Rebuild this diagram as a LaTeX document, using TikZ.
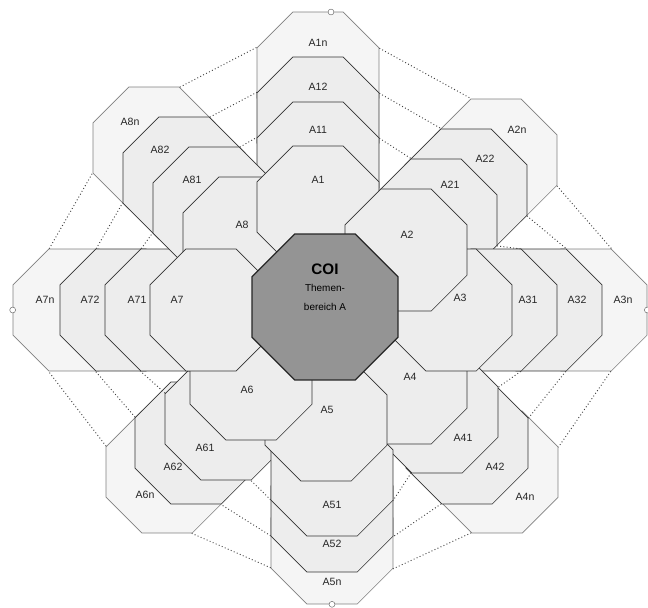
\documentclass[tikz,border=0pt]{standalone}
\usepackage{fontspec}
\setmainfont{Liberation Sans}
\usetikzlibrary{shapes.geometric}
\tikzset{
    field/.style={regular polygon, regular polygon sides=8, minimum size=3.96cm,
        inner sep=0pt, draw=black!80, fill=black!7, line width=0.6pt},
    outer/.style={field, draw=black!50, fill=black!4},
    core/.style={regular polygon, regular polygon sides=8, minimum size=4.74cm,
        inner sep=0pt, draw=black!85, fill=black!42, line width=1.1pt},
    tag/.style={font=\fontsize{9}{10}\selectfont, text=black!85, inner sep=0pt},
    % text of a field, shifted from its centre
    tagged/.style n args={3}{label={[tag, shift={(#1,#2)}]center:#3}},
    link/.style={dotted, line width=0.8pt, black!75},
    handle/.style={circle, draw=black!60, fill=white, inner sep=0pt, minimum size=5pt},
}
\begin{document}
\begin{tikzpicture}[x=0.03cm, y=-0.03cm]
    \useasboundingbox (0,0) rectangle (648,607);

    % outer layer
    \node[outer, tagged={0}{-30}{A1n}]   (a1n) at (318,73)  {};
    \node[outer, tagged={21}{-30}{A2n}]  (a2n) at (496,160) {};
    \node[outer, tagged={37}{-10}{A3n}]  (a3n) at (586,310) {};
    \node[outer, tagged={28}{25}{A4n}]   (a4n) at (497,472) {};
    \node[outer, tagged={0}{39}{A5n}]    (a5n) at (332,543) {};
    \node[outer, tagged={-22}{23}{A6n}]  (a6n) at (167,472) {};
    \node[outer, tagged={-29}{-10}{A7n}] (a7n) at (74,310)  {};
    \node[outer, tagged={-24}{-26}{A8n}] (a8n) at (154,148) {};

    % second layer
    \node[field, tagged={0}{-31}{A12}]   (a12) at (318,118) {};
    \node[field, tagged={19}{-31}{A22}]  (a22) at (466,190) {};
    \node[field, tagged={36}{-10}{A32}]  (a32) at (541,310) {};
    \node[field, tagged={28}{24}{A42}]   (a42) at (467,443) {};
    \node[field, tagged={0}{33}{A52}]    (a52) at (332,511) {};
    \node[field, tagged={-23}{24}{A62}]  (a62) at (196,443) {};
    \node[field, tagged={-31}{-10}{A72}] (a72) at (121,310) {};
    \node[field, tagged={-24}{-28}{A82}] (a82) at (184,178) {};

    % first layer
    \node[field, tagged={0}{-33}{A11}]   (a11) at (318,163) {};
    \node[field, tagged={14}{-35}{A21}]  (a21) at (436,220) {};
    \node[field, tagged={32}{-10}{A31}]  (a31) at (496,310) {};
    \node[field, tagged={26}{26}{A41}]   (a41) at (437,412) {};
    \node[field, tagged={-21}{29}{A61}]  (a61) at (226,419) {};
    \node[field, tagged={0}{30}{A51}]    (a51) at (332,475) {};
    \node[field, tagged={-29}{-10}{A71}] (a71) at (166,310) {};
    \node[field, tagged={-22}{-28}{A81}] (a81) at (214,208) {};

    % dotted links between neighbouring layers
    \draw[link] (a8n.67.5) -- (a1n.157.5) (a82.67.5) -- (a12.157.5) (a81.67.5) -- (a11.157.5);
    \draw[link] (a1n.22.5) -- (a2n.112.5) (a12.22.5) -- (a22.112.5) (a11.22.5) -- (a21.112.5);
    \draw[link] (a2n.337.5) -- (a3n.67.5) (a22.337.5) -- (a32.67.5) (a21.337.5) -- (a31.67.5);
    \draw[link] (a3n.292.5) -- (a4n.22.5) (a32.292.5) -- (a42.22.5) (a31.292.5) -- (a41.22.5);
    \draw[link] (a4n.247.5) -- (a5n.337.5) (a42.247.5) -- (a52.337.5) (a41.247.5) -- (a51.337.5);
    \draw[link] (a5n.202.5) -- (a6n.292.5) (a52.202.5) -- (a62.292.5) (a51.202.5) -- (a61.292.5);
    \draw[link] (a6n.157.5) -- (a7n.247.5) (a62.157.5) -- (a72.247.5) (a61.157.5) -- (a71.247.5);
    \draw[link] (a7n.112.5) -- (a8n.202.5) (a72.112.5) -- (a82.202.5) (a71.112.5) -- (a81.202.5);

    % inner ring
    \node[field, tagged={4}{-6}{A4}]     (a4) at (406,383) {};
    \node[field, tagged={-2}{-13}{A8}]   (a8) at (244,238) {};
    \node[field, tagged={9}{-12}{A3}]    (a3) at (451,310) {};
    \node[field, tagged={1}{-10}{A5}]    (a5) at (326,420) {};
    \node[field, tagged={0}{-27}{A1}]    (a1) at (318,207) {};
    \node[field, tagged={-4}{11}{A6}]    (a6) at (251,379) {};
    \node[field, tagged={1}{-15}{A2}]    (a2) at (406,250) {};
    \node[field, tagged={-34}{-10}{A7}]  (a7) at (211,310) {};

    \node[core, label={[align=center, inner sep=0pt, shift={(0,-20)}]center:{\fontsize{13}{13}\selectfont\bfseries COI}\\[3pt]
        {\fontsize{8.5}{10}\selectfont Themen-}\\[4pt]{\fontsize{8.5}{10}\selectfont bereich A}}] (coi) at (325,307) {};

    \node[handle] (hw) at (a7n.180) {};
    \node[handle] (he) at (a3n.0) {};
    \node[handle] (hn) at (331,12) {};
    \node[handle] (hs) at (a5n.270) {};
\end{tikzpicture}
\end{document}
